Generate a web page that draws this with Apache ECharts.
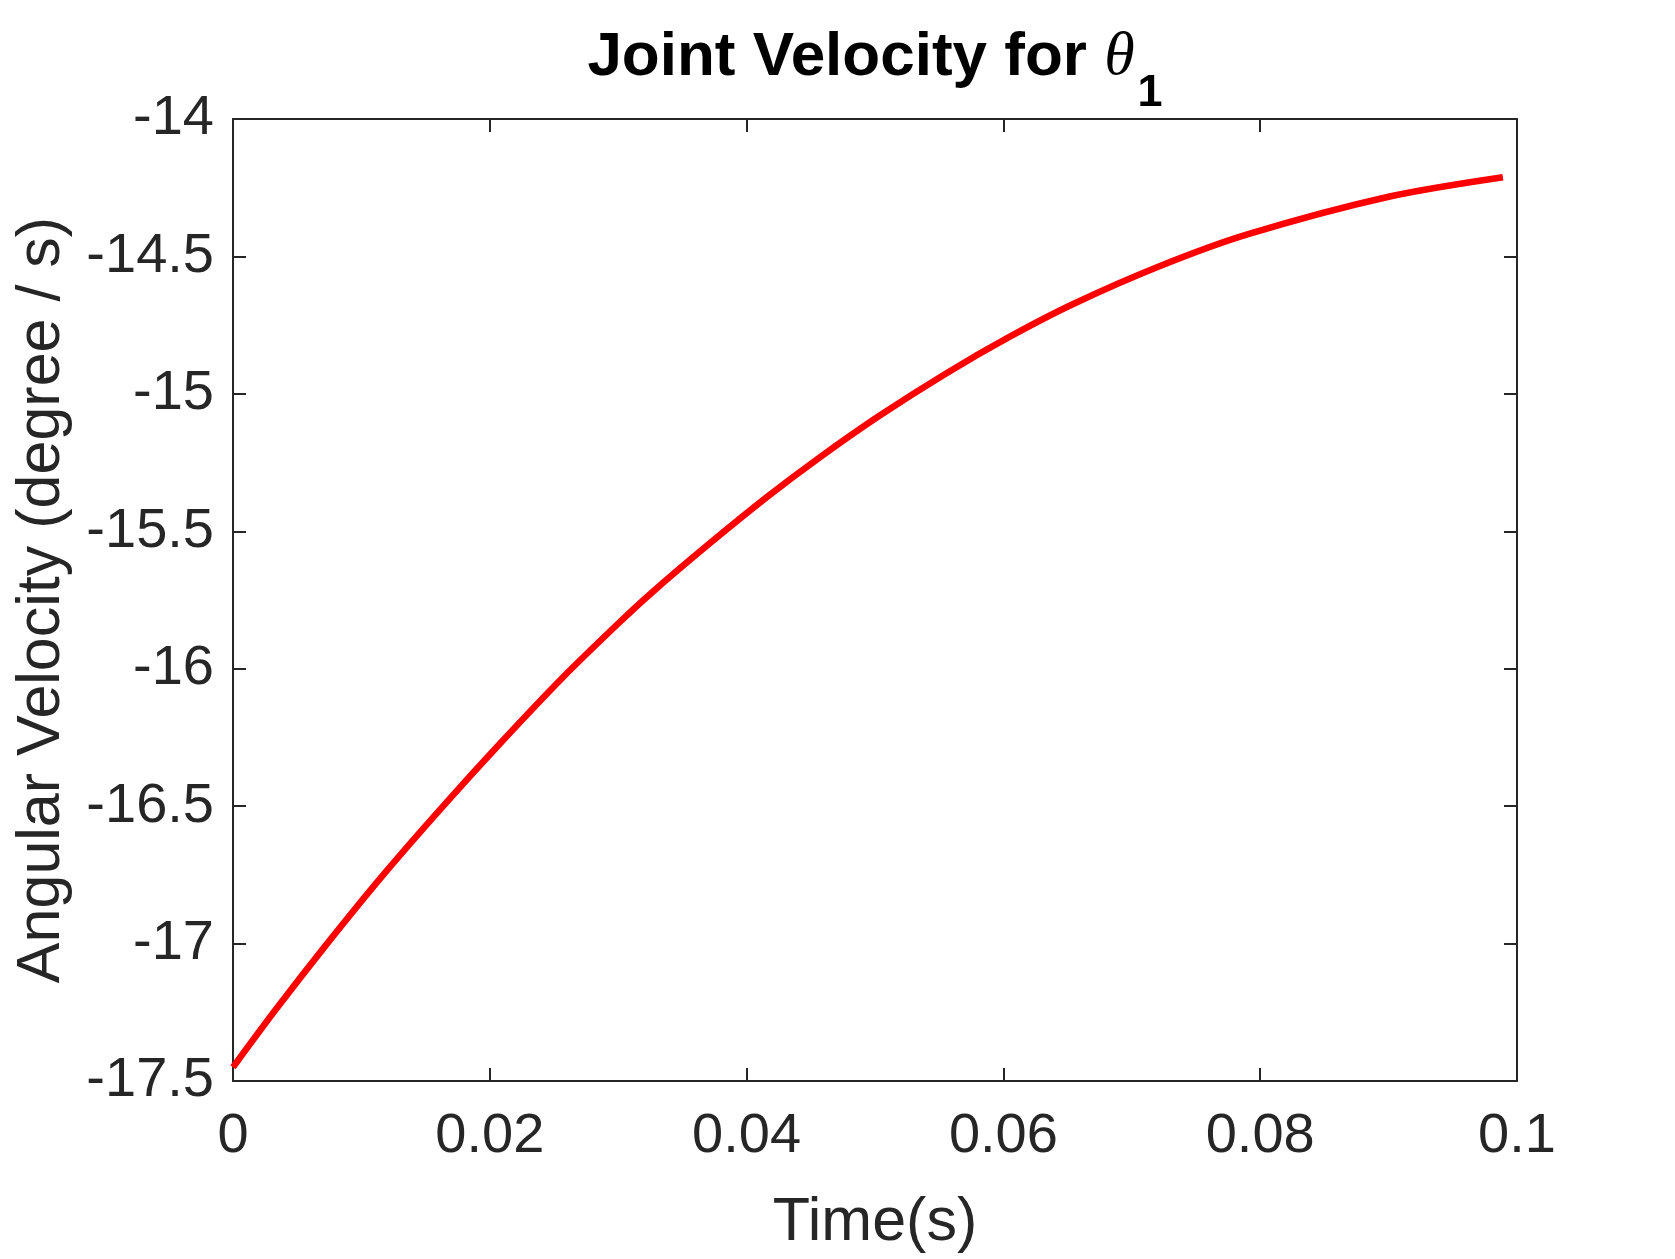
<!DOCTYPE html>
<html>
<head>
<meta charset="utf-8">
<script src="https://cdn.jsdelivr.net/npm/echarts@6/dist/echarts.min.js"></script>
<style>
  html, body { margin: 0; padding: 0; background: #ffffff; overflow: hidden; }
  #chart { width: 1675px; height: 1259px; }
</style>
</head>
<body>
<div id="chart"></div>
<script>
// ---- data ----
const timeS = [0, 0.0033, 0.0073, 0.0117, 0.0164, 0.0208, 0.0257, 0.0299, 0.0325,
               0.0369, 0.0416, 0.0457, 0.0504, 0.0556, 0.0605, 0.0654, 0.0722,
               0.0790, 0.0900, 0.0989];
const velocity = [-17.45, -17.242, -17.002, -16.75, -16.498, -16.272, -16.031, -15.84, -15.728,
                  -15.553, -15.375, -15.231, -15.078, -14.924, -14.792, -14.674, -14.535,
                  -14.42, -14.283, -14.212];
const xTickLabels = ['0', '0.02', '0.04', '0.06', '0.08', '0.1'];
const yTickLabels = ['-17.5', '-17', '-16.5', '-16', '-15.5', '-15', '-14.5', '-14'];

const seriesData = timeS.map((t, i) => [t, velocity[i]]);

const FONT = "'Liberation Sans', Arial, Helvetica, sans-serif";
const INK = '#262626';

const chart = echarts.init(document.getElementById('chart'), null, { renderer: 'canvas' });

const xMin = 0, xMax = 0.1, xInt = 0.02;
const yMin = -17.5, yMax = -14, yInt = 0.5;

function xLabel(v) {
  const idx = Math.round((v - xMin) / xInt);
  return xTickLabels[idx] !== undefined ? xTickLabels[idx] : '';
}
function yLabel(v) {
  const idx = Math.round((v - yMin) / yInt);
  return yTickLabels[idx] !== undefined ? yTickLabels[idx] : '';
}

const axisLineStyle = { color: INK, width: 2 };
const tickStyle = { show: true, inside: true, length: 13, lineStyle: { color: INK, width: 2 } };

chart.setOption({
  animation: false,
  backgroundColor: '#ffffff',
  title: {
    text: '{a|Joint Velocity for }{th|θ}{s|1}',
    left: 875,
    top: 27,
    padding: 0,
    textAlign: 'center',
    textStyle: {
      rich: {
        a: { fontFamily: FONT, fontWeight: 'bold', fontSize: 62, lineHeight: 70, color: '#000000', verticalAlign: 'top' },
        th: { fontFamily: "'Liberation Serif', 'Times New Roman', serif", fontStyle: 'italic', fontWeight: 'normal', fontSize: 62, lineHeight: 70, color: '#000000', verticalAlign: 'top' },
        s: { fontFamily: FONT, fontWeight: 'bold', fontSize: 45, lineHeight: 45, color: '#000000', padding: [44, 0, 0, 3], verticalAlign: 'top' }
      }
    }
  },
  grid: { left: 233, right: 158, top: 119, bottom: 170, containLabel: false },
  xAxis: [
    {
      type: 'value', min: xMin, max: xMax, interval: xInt, position: 'bottom',
      name: 'Time(s)', nameLocation: 'middle', nameGap: 112,
      nameTextStyle: { fontFamily: FONT, fontSize: 61, color: INK },
      axisLine: { show: true, onZero: false, lineStyle: axisLineStyle },
      axisTick: tickStyle,
      axisLabel: { show: true, margin: 28, fontFamily: FONT, fontSize: 56, color: INK, formatter: xLabel },
      splitLine: { show: false }
    },
    {
      type: 'value', min: xMin, max: xMax, interval: xInt, position: 'top',
      axisLine: { show: true, onZero: false, lineStyle: axisLineStyle },
      axisTick: tickStyle,
      axisLabel: { show: false },
      splitLine: { show: false }
    }
  ],
  yAxis: [
    {
      type: 'value', min: yMin, max: yMax, interval: yInt, position: 'left',
      name: 'Angular Velocity (degree / s)', nameLocation: 'middle', nameGap: 160,
      nameTextStyle: { fontFamily: FONT, fontSize: 61, color: INK },
      axisLine: { show: true, onZero: false, lineStyle: axisLineStyle },
      axisTick: tickStyle,
      axisLabel: { show: true, margin: 19, fontFamily: FONT, fontSize: 56, color: INK, formatter: yLabel },
      splitLine: { show: false }
    },
    {
      type: 'value', min: yMin, max: yMax, interval: yInt, position: 'right',
      axisLine: { show: true, onZero: false, lineStyle: axisLineStyle },
      axisTick: tickStyle,
      axisLabel: { show: false },
      splitLine: { show: false }
    }
  ],
  series: [
    {
      type: 'line',
      xAxisIndex: 0,
      yAxisIndex: 0,
      data: seriesData,
      smooth: 0.3,
      showSymbol: false,
      symbol: 'none',
      lineStyle: { color: '#ff0000', width: 6.5 },
      clip: false,
      z: 5
    }
  ]
});
</script>
</body>
</html>
